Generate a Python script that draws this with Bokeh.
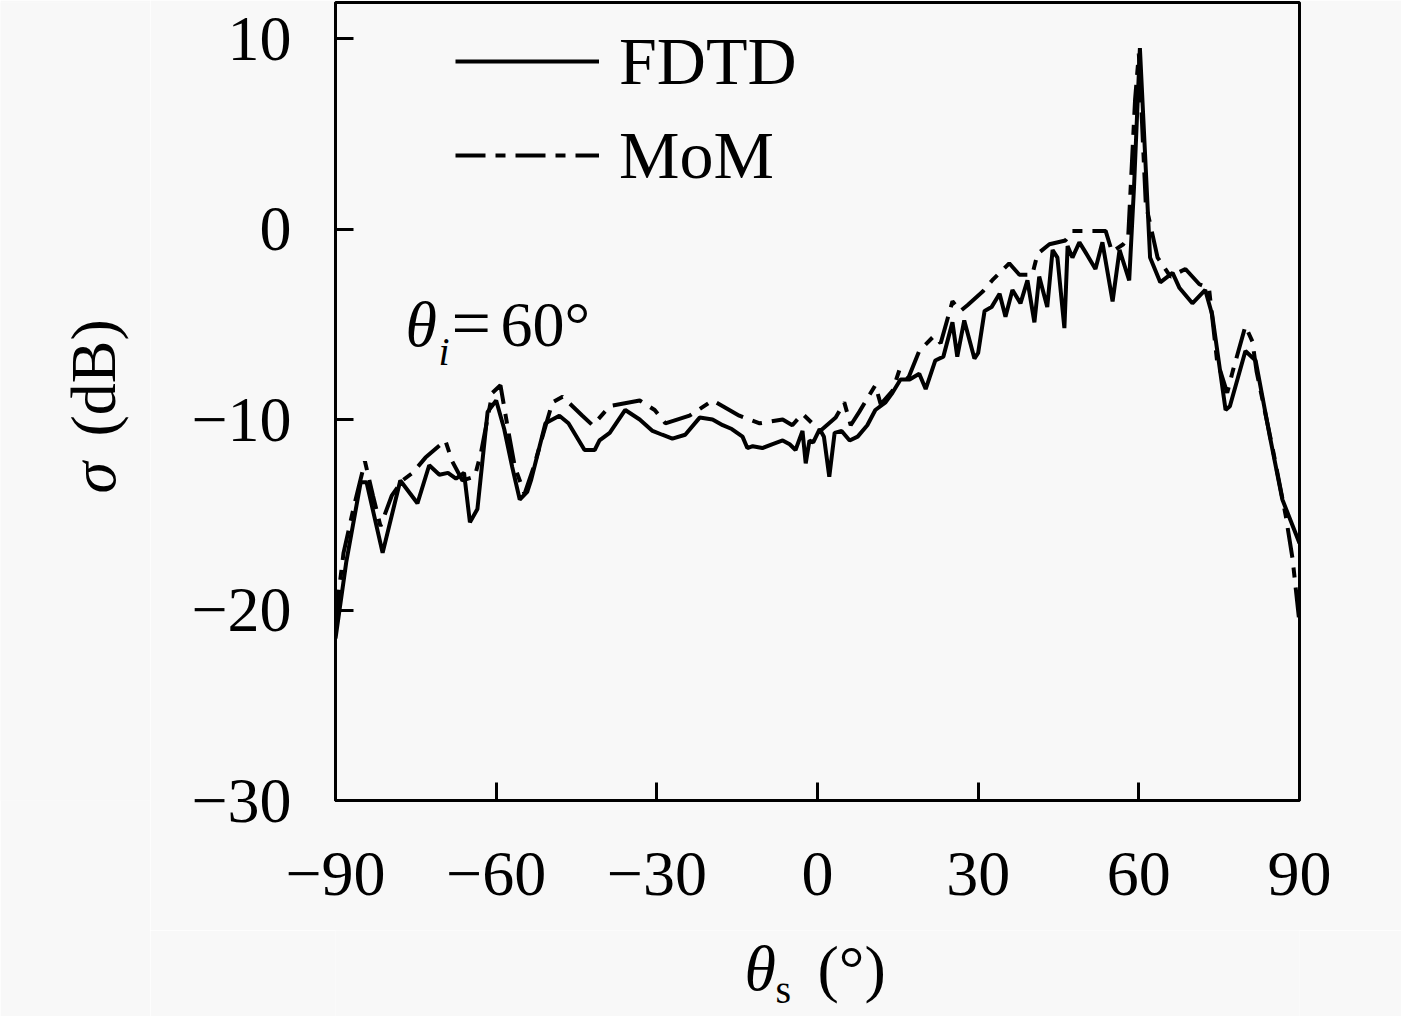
import numpy as np
from bokeh.plotting import figure
from bokeh.layouts import row, column
from bokeh.models import (Range1d, FixedTicker, CustomJSTickFormatter, Legend,
                          LegendItem, Label)
from bokeh.embed import file_html
from bokeh.resources import INLINE

# ---------------- data ----------------
fdtd_theta = [-90.0, -88.0, -85.3, -84.2, -81.2, -77.9, -74.7, -72.5, -70.6, -69.0,
              -67.5, -66.0, -64.9, -63.5, -61.6, -60.0, -58.5, -57.0, -55.6, -54.2,
              -53.5, -50.8, -48.2, -46.5, -43.5, -41.6, -40.7, -38.8, -35.9, -33.2,
              -30.8, -29.0, -27.1, -24.7, -22.0, -19.6, -17.7, -16.0, -14.0, -13.1,
              -12.1, -10.3, -8.5, -6.5, -5.2, -4.1, -2.8, -2.2, -1.5, -0.8,
              0.4, 1.2, 2.2, 3.2, 4.5, 6.0, 7.5, 9.3, 10.8, 12.7,
              14.0, 15.5, 17.2, 19.0, 20.2, 22.0, 23.5, 25.2, 26.1, 27.4,
              29.3, 30.0, 31.2, 32.5, 34.0, 35.1, 36.4, 37.9, 39.2, 40.5,
              41.4, 42.9, 43.9, 44.8, 46.1, 46.7, 47.6, 48.9, 50.0, 51.9,
              53.2, 55.1, 56.4, 58.2, 59.1, 60.2, 62.1, 64.0, 66.3, 67.6,
              70.0, 72.4, 73.7, 76.2, 77.0, 79.9, 81.8, 84.4, 86.8, 90.0]
fdtd_sigma = [-21.5, -17.5, -13.3, -13.3, -17.0, -13.2, -14.4, -12.4, -12.9, -12.8,
              -13.1, -12.8, -15.4, -14.7, -9.6, -9.0, -10.5, -12.5, -14.2, -13.8,
              -13.2, -10.2, -9.8, -10.2, -11.6, -11.6, -11.1, -10.7, -9.5, -10.0,
              -10.6, -10.8, -11.0, -10.8, -9.9, -10.0, -10.3, -10.5, -10.9, -11.5,
              -11.4, -11.5, -11.3, -11.1, -11.3, -11.6, -10.6, -12.3, -11.1, -11.2,
              -10.5, -10.9, -13.0, -10.7, -10.6, -11.1, -10.9, -10.3, -9.5, -9.1,
              -8.6, -7.9, -7.9, -7.6, -8.4, -6.9, -6.7, -4.9, -6.7, -4.8,
              -6.8, -6.5, -4.3, -4.1, -3.4, -4.6, -3.2, -3.9, -2.7, -4.9,
              -2.5, -4.1, -1.1, -1.5, -5.2, -0.9, -1.5, -0.7, -1.2, -2.1,
              -0.7, -3.8, -1.1, -2.7, 2.2, 9.5, -1.5, -2.8, -2.3, -3.1,
              -3.9, -3.2, -4.5, -9.5, -9.3, -6.4, -6.9, -10.8, -14.2, -16.5]

mom_theta = [-90.0, -88.5, -86.5, -84.5, -83.0, -81.6, -79.5, -77.5, -75.6, -73.2,
             -69.5, -68.2, -66.3, -64.0, -62.8, -60.7, -59.2, -57.8, -56.5, -54.7,
             -53.0, -49.5, -47.6, -43.9, -42.0, -41.0, -38.8, -33.2, -30.4, -28.4,
             -23.9, -19.6, -14.6, -10.8, -6.5, -4.7, -2.8, 0.5, 3.4, 5.0,
             6.2, 7.8, 10.8, 11.8, 14.0, 15.3, 17.0, 19.0, 21.8, 23.0,
             25.2, 26.7, 28.0, 30.8, 32.6, 35.8, 37.7, 40.1, 41.1, 43.3,
             46.3, 47.6, 53.8, 55.0, 57.1, 58.0, 59.3, 60.0, 61.3, 63.5,
             65.9, 68.7, 71.3, 73.1, 74.6, 76.5, 77.5, 79.9, 81.2, 82.0,
             84.9, 87.4, 88.7, 90.0]
mom_sigma = [-20.5, -17.0, -14.5, -12.2, -14.0, -15.6, -14.0, -13.2, -12.8, -12.0,
             -11.1, -12.2, -13.2, -13.0, -11.7, -8.6, -8.2, -10.5, -12.5, -13.9,
             -12.5, -9.1, -8.8, -9.8, -10.3, -10.0, -9.3, -9.0, -9.5, -10.2,
             -9.8, -9.0, -9.8, -10.2, -10.0, -10.3, -9.7, -10.6, -9.9, -9.1,
             -10.3, -9.6, -8.2, -9.2, -8.5, -7.4, -7.8, -6.4, -5.6, -6.0,
             -3.8, -4.3, -4.0, -3.3, -2.7, -1.8, -2.4, -2.4, -1.3, -0.8,
             -0.6, -0.1, -0.1, -1.2, -0.8, -0.5, 6.8, 9.2, 1.3, -1.5,
             -2.5, -2.1, -2.9, -3.1, -6.9, -8.6, -7.5, -5.1, -5.9, -7.5,
             -11.4, -15.0, -17.3, -20.7]

x_ticks = [-90, -60, -30, 0, 30, 60, 90]
y_ticks = [-30, -20, -10, 0, 10]

series_labels = ["FDTD", "MoM"]

# ---------------- layout constants (page pixels) ----------------
FONT = "Liberation Serif"
BG = "#f8f8f8"
PAGE0 = 8                    # body margin
YLAB_W = 150                 # strip holding the y-axis title
MAIN_W, MAIN_H = 1251, 930
XLAB_H = 86
TOTAL_H = MAIN_H + XLAB_H
BL, BR, BT, BB = 185, 102, 2, 130   # main plot borders
FRAME_L = PAGE0 + YLAB_W + BL        # 343
FRAME_R = PAGE0 + YLAB_W + MAIN_W - BR   # 1307
FRAME_T = PAGE0 + BT                 # 10
FRAME_B = PAGE0 + MAIN_H - BB        # 808
PAGE_B = PAGE0 + TOTAL_H             # 1024
Y_TOP = 11.89

# ---------------- main plot ----------------
p = figure(width=MAIN_W, height=MAIN_H, x_range=Range1d(-90, 90),
           y_range=Range1d(-30, Y_TOP), output_backend="svg", toolbar_location=None,
           min_border_left=BL, min_border_right=BR, min_border_top=BT,
           min_border_bottom=BB)
p.background_fill_color = BG
p.border_fill_color = BG
p.grid.visible = False
p.outline_line_color = "black"
p.outline_line_width = 3

fmt = CustomJSTickFormatter(code="""
    return tick < 0 ? "\\u2212" + Math.abs(tick) : String(tick);
""")

for ax, ticks in ((p.xaxis[0], x_ticks), (p.yaxis[0], y_ticks)):
    ax.ticker = FixedTicker(ticks=ticks)
    ax.formatter = fmt
    ax.axis_line_width = 3
    ax.major_tick_line_width = 3
    ax.major_tick_in = 18
    ax.major_tick_out = 0
    ax.minor_tick_in = 0
    ax.minor_tick_out = 0
    ax.major_label_text_font = FONT
    ax.major_label_text_font_size = "64px"
    ax.major_label_text_color = "black"

p.xaxis.major_label_standoff = 52
p.yaxis.major_label_standoff = 44

r1 = p.line(fdtd_theta, fdtd_sigma, line_color="black", line_width=4)
r2 = p.line(mom_theta, mom_sigma, line_color="black", line_width=4,
            line_dash="30 10 10 10")

legend = Legend(items=[LegendItem(label=series_labels[0], renderers=[r1]),
                       LegendItem(label=series_labels[1], renderers=[r2])],
                location=(120, 605), glyph_width=144, glyph_height=80,
                spacing=14, padding=0, margin=0, label_standoff=20,
                label_text_font=FONT, label_text_font_size="68px",
                label_text_color="black",
                background_fill_alpha=0, border_line_alpha=0)
p.add_layout(legend)


def text_strip(width, height, xr, yr, bl=0, br=0, bt=0, bb=0):
    f = figure(width=width, height=height, x_range=Range1d(*xr),
               y_range=Range1d(*yr), output_backend="svg",
               toolbar_location=None, x_axis_type=None, y_axis_type=None,
               min_border_left=bl, min_border_right=br, min_border_top=bt,
               min_border_bottom=bb)
    f.background_fill_color = BG
    f.border_fill_color = BG
    f.outline_line_color = None
    f.grid.visible = False
    return f


# x-axis title strip: its frame spans the main frame horizontally; data = page px
xl = text_strip(MAIN_W, XLAB_H, (FRAME_L, FRAME_R), (PAGE_B, PAGE_B - XLAB_H),
                bl=BL, br=BR)
# y-axis title strip: full height, frame spans the main frame vertically; data = page px
yl = text_strip(YLAB_W, TOTAL_H, (PAGE0, PAGE0 + YLAB_W), (FRAME_B, FRAME_T),
                bt=BT, bb=BB + XLAB_H)

SHIFT = 0.4   # measured offset (in em) of Bokeh's rendered baseline


def lab(fig, text, px, py, size, italic=False, rotated=False, conv=None):
    """px, py: page pixel position of the text's start on its baseline."""
    if rotated:
        px = px - SHIFT * size
    else:
        py = py - SHIFT * size
    x, y = (px, py) if conv is None else conv(px, py)
    fig.add_layout(Label(x=x, y=y, text=text, text_font=FONT,
                         text_font_size=f"{size}px",
                         text_font_style="italic" if italic else "normal",
                         text_align="left", text_baseline="alphabetic",
                         text_color="black", angle=np.pi / 2 if rotated else 0.0))


def main_conv(px, py):
    x = -90 + (px - FRAME_L) * 180 / (FRAME_R - FRAME_L)
    y = Y_TOP - (py - FRAME_T) * (Y_TOP + 30) / (FRAME_B - FRAME_T)
    return x, y


# annotation  θi = 60°
lab(p, "θ", 413, 358, 64, italic=True, conv=main_conv)
lab(p, "i", 446, 375, 40, italic=True, conv=main_conv)
lab(p, "=", 459, 359, 70, conv=main_conv)
lab(p, "60°", 508, 358, 64, conv=main_conv)

# x axis title  θs (°)
lab(xl, "θ", 752, 1002, 64, italic=True)
lab(xl, "s", 783, 1013, 40)
lab(xl, "(°)", 825, 1002, 64)

# y axis title  σ (dB)
lab(yl, "σ", 127, 501, 64, italic=True, rotated=True)
lab(yl, "(dB)", 127, 444, 64, rotated=True)

layout = row(yl, column(p, xl))

open("out.html", "w").write(file_html(layout, INLINE))
